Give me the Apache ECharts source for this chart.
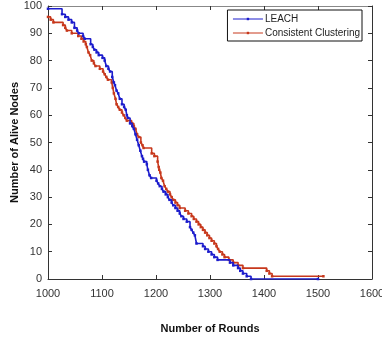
<!DOCTYPE html>
<html><head><meta charset="utf-8">
<script src="https://cdn.jsdelivr.net/npm/echarts@6/dist/echarts.min.js"></script>
<style>html,body{margin:0;padding:0;background:#fff}#c{width:382px;height:339px}</style>
</head><body><div id="c"></div>
<script>
var xTicks = [1000,1100,1200,1300,1400,1500,1600];
var yTicks = [0,10,20,30,40,50,60,70,80,90,100];
var leachRounds = [1000,1026,1032,1038,1044,1049,1054,1057,1065,1068,1079,1083,1086,1090,1094,1101,1105,1108,1112,1115,1119,1122,1124,1127,1130,1133,1137,1141,1144,1146,1148,1152,1156,1159,1162,1165,1168,1171,1174,1176,1178,1183,1185,1188,1191,1201,1204,1207,1211,1214,1218,1222,1225,1229,1232,1236,1240,1244,1247,1251,1257,1263,1266,1269,1272,1275,1287,1291,1297,1303,1308,1314,1337,1343,1352,1356,1361,1368,1376,1500];
var leachAlive = [99,97,96,95,94,92,91,90,89,88,86,85,84,83,82,81,80,78,77,76,74,72,71,69,68,66,64,63,62,60,59,57,56,55,53,51,49,47,45,44,43,42,40,38,37,36,35,34,33,32,31,30,29,28,27,26,25,24,23,22,21,19,18,17,16,13,12,11,10,9,8,7,6,5,4,3,2,1,0,0];
var ccRounds = [1000,1005,1010,1028,1032,1035,1044,1056,1062,1066,1070,1072,1075,1078,1081,1085,1088,1096,1102,1105,1108,1111,1118,1120,1122,1125,1127,1130,1133,1137,1140,1143,1146,1155,1159,1162,1165,1168,1172,1175,1177,1192,1197,1203,1205,1206,1208,1210,1213,1216,1219,1222,1226,1229,1232,1236,1240,1244,1254,1260,1266,1270,1275,1279,1283,1287,1291,1295,1299,1303,1308,1312,1315,1318,1323,1327,1335,1343,1352,1361,1405,1410,1415,1510];
var ccAlive = [96,95,94,93,92,91,90,89,88,87,86,85,83,82,80,79,78,77,76,75,74,73,72,70,68,66,64,63,62,61,60,59,58,57,56,55,53,52,50,49,48,46,45,43,41,40,39,37,36,34,33,32,31,30,29,28,27,26,25,24,23,22,21,20,19,18,17,16,15,14,13,12,11,10,9,8,7,6,5,4,3,2,1,1];
var seriesNames = ['LEACH','Consistent Clustering'];

function pairs(xs, ys){ return xs.map(function(x,i){return [x, ys[i]];}); }
var FONT = '"Liberation Sans", Arial, sans-serif';
var axisCol = '#333';
var chart = echarts.init(document.getElementById('c'), null, {renderer:'canvas'});
chart.setOption({
  animation:false,
  backgroundColor:'#fff',
  grid:{left:48, right:10, top:6, bottom:60, containLabel:false, outerBoundsMode:'none'},
  legend:{
    orient:'vertical', right:20, top:10, itemWidth:30, itemHeight:3, itemGap:4,
    padding:[4,2,3,5], backgroundColor:'#fff', borderColor:'#111', borderWidth:1, borderRadius:0,
    lineStyle:{width:1},
    textStyle:{fontFamily:FONT, fontSize:10, color:'#222', padding:[0,0,0,-3]},
    data:seriesNames
  },
  xAxis:[{
    type:'value', min:1000, max:1600, interval:100, position:'bottom',
    axisLine:{show:true, lineStyle:{color:axisCol, width:1}},
    axisTick:{show:true, inside:true, length:4, lineStyle:{color:axisCol}},
    axisLabel:{fontFamily:FONT, fontSize:11, color:'#333', margin:9,
      formatter:function(v){return xTicks.indexOf(v)>=0?String(v):'';}},
    splitLine:{show:false},
    name:'Number of Rounds', nameLocation:'middle', nameGap:44, nameMoveOverlap:false,
    nameTextStyle:{fontFamily:FONT, fontSize:11, fontWeight:'bold', color:'#111'}
  },{
    type:'value', min:1000, max:1600, interval:100, position:'top',
    axisLine:{show:true, onZero:false, lineStyle:{color:'#888', width:1}},
    axisTick:{show:true, inside:true, length:4, lineStyle:{color:axisCol}},
    axisLabel:{show:false}, splitLine:{show:false}
  }],
  yAxis:[{
    type:'value', min:0, max:100, interval:10, position:'left',
    axisLine:{show:true, lineStyle:{color:axisCol, width:1}},
    axisTick:{show:true, inside:true, length:4, lineStyle:{color:axisCol}},
    axisLabel:{fontFamily:FONT, fontSize:11, color:'#333', margin:6,
      formatter:function(v){return yTicks.indexOf(v)>=0?String(v):'';}},
    splitLine:{show:false},
    name:'Number of Alive Nodes', nameLocation:'middle', nameGap:28, nameMoveOverlap:false,
    nameTextStyle:{fontFamily:FONT, fontSize:11, fontWeight:'bold', color:'#111'}
  },{
    type:'value', min:0, max:100, interval:10, position:'right',
    axisLine:{show:true, onZero:false, lineStyle:{color:axisCol, width:1}},
    axisTick:{show:true, inside:true, length:4, lineStyle:{color:axisCol}},
    axisLabel:{show:false}, splitLine:{show:false}
  }],
  series:[{
    name:seriesNames[0], type:'line', step:'end', xAxisIndex:0, yAxisIndex:0,
    data:pairs(leachRounds, leachAlive), color:'#1c1ccc',
    lineStyle:{width:1.6, color:'#1c1ccc'}, symbol:'rect', symbolSize:2.5, showSymbol:true,
    itemStyle:{color:'#1c1ccc'}, z:3
  },{
    name:seriesNames[1], type:'line', step:'end', xAxisIndex:0, yAxisIndex:0,
    data:pairs(ccRounds, ccAlive), color:'#c7381c',
    lineStyle:{width:1.6, color:'#c7381c'}, symbol:'rect', symbolSize:2.5, showSymbol:true,
    itemStyle:{color:'#c7381c'}, z:2
  }]
});
</script></body></html>
